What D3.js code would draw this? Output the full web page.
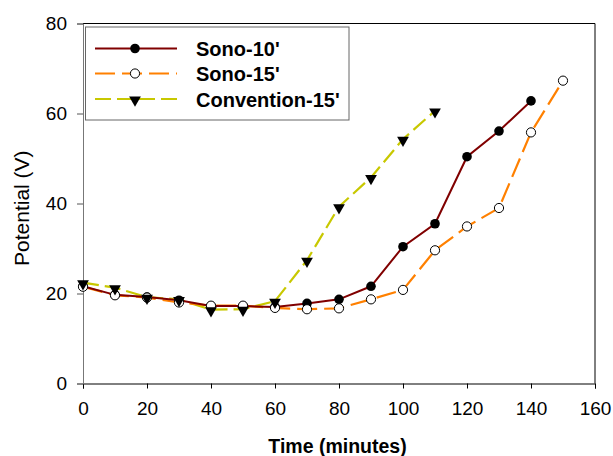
<!DOCTYPE html>
<html><head><meta charset="utf-8">
<script src="https://cdn.jsdelivr.net/npm/d3@7"></script>
<style>body{margin:0;background:#fff}svg{display:block}</style>
</head><body>
<svg id="c" width="613" height="456"></svg>
<script>
const timeSono10 = [0,10,20,30,40,50,60,70,80,90,100,110,120,130,140];
const sono10 = [21.6,19.7,19.2,18.5,17.2,17.2,17.0,17.8,18.7,21.6,30.4,35.5,50.4,56.1,62.8];
const timeSono15 = [0,10,20,30,40,50,60,70,80,90,100,110,120,130,140,150];
const sono15 = [21.5,19.6,19.1,18.0,17.3,17.3,16.8,16.5,16.7,18.7,20.8,29.6,34.9,39.0,55.8,67.3];
const timeConv15 = [0,10,20,30,40,50,60,70,80,90,100,110];
const conv15 = [22.4,21.3,19.2,18.7,16.4,16.5,18.3,27.4,39.3,45.8,54.3,60.6];
const xTicks = [0,20,40,60,80,100,120,140,160];
const yTicks = [0,20,40,60,80];
const seriesNames = ["Sono-10'","Sono-15'","Convention-15'"];

const svg = d3.select("#c");
const L = 83, R = 595, T = 23.5, B = 383.5;
const x = d3.scaleLinear().domain([0,160]).range([L,R]);
const y = d3.scaleLinear().domain([0,80]).range([B,T]);
const font = "Arial, 'Liberation Sans', sans-serif";

// frame top/right
svg.append("line").attr("x1",L).attr("x2",R).attr("y1",T).attr("y2",T).attr("stroke","#000").attr("stroke-width",1);
svg.append("line").attr("x1",R).attr("x2",R).attr("y1",T).attr("y2",B).attr("stroke","#000").attr("stroke-width",1);

const xAxis = svg.append("g").attr("transform",`translate(0,${B})`)
  .call(d3.axisBottom(x).tickValues(xTicks).tickSize(5).tickPadding(13));
xAxis.select(".domain").attr("stroke","#000");
xAxis.selectAll("text").attr("font-family",font).attr("font-size",19).attr("fill","#000");

const yAxis = svg.append("g").attr("transform",`translate(${L},0)`)
  .call(d3.axisLeft(y).tickValues(yTicks).tickSize(6).tickPadding(10));
yAxis.select(".domain").attr("stroke","#777");
yAxis.selectAll(".tick line").attr("stroke","#555");
yAxis.selectAll("text").attr("font-family",font).attr("font-size",19).attr("fill","#000");

svg.append("text").attr("x",337.5).attr("y",453).attr("text-anchor","middle")
  .attr("font-family",font).attr("font-size",19.5).attr("font-weight","bold").text("Time (minutes)");
svg.append("text").attr("transform","translate(28.5,266) rotate(-90)").attr("text-anchor","start")
  .attr("font-family",font).attr("font-size",21).text("Potential (V)");

const line = d3.line().x(d=>x(d[0])).y(d=>y(d[1]));
const tri = d3.symbol().type(d3.symbolTriangle).size(60);

function zip(a,b){return a.map((v,i)=>[v,b[i]]);}
const dC = zip(timeConv15,conv15), d15 = zip(timeSono15,sono15), d10 = zip(timeSono10,sono10);

svg.append("path").datum(dC).attr("d",line).attr("fill","none").attr("stroke","#c8c800").attr("stroke-width",2.2).attr("stroke-dasharray","16,6");
svg.append("path").datum(d15).attr("d",line).attr("fill","none").attr("stroke","#ff8000").attr("stroke-width",2.2).attr("stroke-dasharray","20,7");
svg.append("path").datum(d10).attr("d",line).attr("fill","none").attr("stroke","#800000").attr("stroke-width",2);

svg.selectAll(".m10").data(d10).enter().append("circle")
  .attr("cx",d=>x(d[0])).attr("cy",d=>y(d[1])).attr("r",4.8).attr("fill","#000");
svg.selectAll(".m15").data(d15).enter().append("circle")
  .attr("cx",d=>x(d[0])).attr("cy",d=>y(d[1])).attr("r",4.6).attr("fill","#fff").attr("stroke","#000").attr("stroke-width",1);
svg.selectAll(".mc").data(dC).enter().append("path")
  .attr("d",tri).attr("transform",d=>`translate(${x(d[0])},${y(d[1])+1}) rotate(180)`).attr("fill","#000");

// legend
svg.append("rect").attr("x",85.5).attr("y",27).attr("width",263.5).attr("height",93)
  .attr("fill","#fff").attr("stroke","#666").attr("stroke-width",1);
const rows = [48.5,73.5,99];
const lg = svg.append("g");
lg.append("line").attr("x1",95).attr("x2",177).attr("y1",rows[0]).attr("y2",rows[0]).attr("stroke","#800000").attr("stroke-width",2);
lg.append("circle").attr("cx",135).attr("cy",rows[0]).attr("r",4.8).attr("fill","#000");
lg.append("line").attr("x1",95).attr("x2",177).attr("y1",rows[1]).attr("y2",rows[1]).attr("stroke","#ff8000").attr("stroke-width",2.2).attr("stroke-dasharray","20,7");
lg.append("circle").attr("cx",135).attr("cy",rows[1]).attr("r",4.6).attr("fill","#fff").attr("stroke","#000");
lg.append("line").attr("x1",95).attr("x2",177).attr("y1",rows[2]).attr("y2",rows[2]).attr("stroke","#c8c800").attr("stroke-width",2.2).attr("stroke-dasharray","16,6");
lg.append("path").attr("d",tri).attr("transform",`translate(135,${rows[2]+1}) rotate(180)`).attr("fill","#000");
seriesNames.forEach((n,i)=>{
  lg.append("text").attr("x",196).attr("y",rows[i]+7.5).attr("font-family",font).attr("font-size",20)
    .attr("font-weight","bold").text(n);
});
</script>
</body></html>
